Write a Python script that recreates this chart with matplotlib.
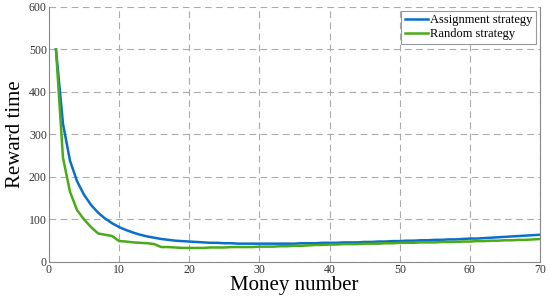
import matplotlib
matplotlib.use("Agg")
import matplotlib.pyplot as plt

# Datos
money = list(range(1, 71))
asignacion = [500, 325, 238, 190, 158, 134, 116, 102, 91, 82,
              75, 69, 64, 60, 57, 54, 52, 50, 49, 48,
              47, 46, 45, 45, 44, 44, 43, 43, 43, 43,
              43, 43, 43, 43, 43, 44, 44, 44, 45, 45,
              45, 46, 46, 46, 47, 47, 48, 48, 49, 49,
              50, 50, 51, 51, 52, 52, 53, 53, 54, 55,
              55, 56, 57, 58, 59, 60, 61, 62, 63, 64]
aleatoria = [500, 245, 165, 122, 100, 82, 67, 64, 61, 49,
             48, 46, 45, 44, 42, 35, 35, 34, 33, 33,
             33, 33, 34, 34, 34, 35, 35, 35, 35, 36,
             36, 36, 37, 37, 38, 38, 39, 40, 40, 41,
             41, 42, 42, 42, 43, 43, 43, 44, 44, 45,
             45, 45, 46, 46, 46, 47, 47, 47, 48, 48,
             49, 49, 50, 50, 51, 51, 52, 52, 53, 54]

plt.rcParams['font.family'] = ['Liberation Serif', 'DejaVu Serif']

fig = plt.figure(figsize=(5.5, 2.98), dpi=100)
ax = fig.add_axes([0.089, 0.121, 0.893, 0.856])

ax.plot(money, asignacion, color='#0a6fc8', linewidth=1.8, label='Assignment strategy')
ax.plot(money, aleatoria, color='#4aaa1a', linewidth=1.8, label='Random strategy')

ax.set_xlim(0, 70)
ax.set_ylim(0, 600)
ax.set_xticks(range(0, 71, 10))
ax.set_yticks(range(0, 601, 100))
ax.tick_params(labelsize=8.5, length=0, colors='#333333', pad=1.5)
ax.grid(True, linestyle=(0, (6, 4)), color='#aaaaaa', linewidth=0.8)

for lado in ['left', 'bottom', 'right']:
    ax.spines[lado].set_color('#888888')
ax.spines['top'].set_visible(False)

ax.set_xlabel('Money number', fontsize=15, labelpad=0)
ax.set_ylabel('Reward time', fontsize=15, labelpad=3)

legend = ax.legend(loc='upper right', fontsize=9, fancybox=False, framealpha=1,
                   edgecolor='#999999', handlelength=1.8, handletextpad=0.2,
                   borderpad=0.3, labelspacing=0.15, borderaxespad=0.3)
legend.get_frame().set_linewidth(0.8)

plt.savefig('out.png', dpi=100)
